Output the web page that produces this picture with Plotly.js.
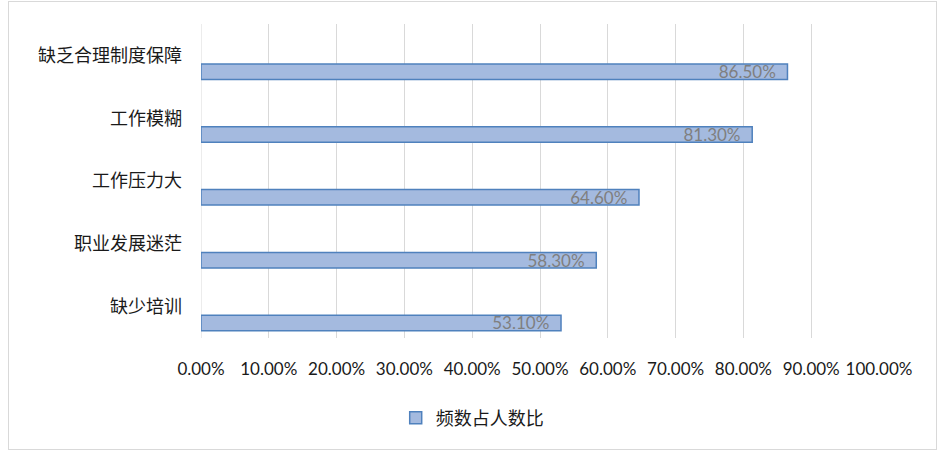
<!DOCTYPE html>
<html>
<head>
<meta charset="utf-8">
<script src="https://cdn.plot.ly/plotly-3.0.1.min.js"></script>
<style>
  html, body { margin: 0; padding: 0; background: #fff; }
  #frame { position: absolute; left: 8px; top: 1px; width: 929px; height: 449px; box-sizing: border-box; border: 1px solid #d9d9d9; }
  #chart { position: absolute; left: 0; top: 0; width: 939px; height: 453px; }
</style>
</head>
<body>
<div id="frame"></div>
<div id="chart"></div>
<script>
const categories = ["缺乏合理制度保障", "工作模糊", "工作压力大", "职业发展迷茫", "缺少培训"];
const values = [0.865, 0.813, 0.646, 0.583, 0.531];
const seriesName = "频数占人数比";
const xTickVals = [0, 0.1, 0.2, 0.3, 0.4, 0.5, 0.6, 0.7, 0.8, 0.9, 1.0];

const trace = {
  type: "bar",
  orientation: "h",
  name: seriesName,
  y: categories,
  x: values,
  width: 0.247,
  offset: 0.137,
  marker: { color: "#a4badf", line: { color: "#4f81bd", width: 1.5 } },
  texttemplate: "%{x:.2%}\u00a0\u00a0",
  textposition: "inside",
  insidetextanchor: "end",
  constraintext: "none",
  textfont: { family: "Lato, 'Open Sans', sans-serif", size: 17, color: "#7f7f7f" },
  hoverinfo: "skip",
  showlegend: true
};

const layout = {
  width: 939, height: 453,
  margin: { l: 201, r: 60, t: 24, b: 115 },
  paper_bgcolor: "rgba(0,0,0,0)",
  plot_bgcolor: "rgba(0,0,0,0)",
  xaxis: {
    range: [0, 1],
    tickvals: xTickVals,
    tickformat: ".2%",
    showgrid: true, gridcolor: "#d9d9d9", gridwidth: 1,
    zeroline: false, showline: false,
    ticks: "", ticklabelstandoff: 19,
    tickfont: { family: "Lato, 'Open Sans', sans-serif", size: 17, color: "#1a1a1a" }
  },
  yaxis: {
    type: "category",
    range: [4.5, -0.5],
    showgrid: false, zeroline: false,
    showline: false,
    ticks: "", ticklabelstandoff: 18,
    tickfont: { family: "'Noto Sans CJK SC', sans-serif", size: 18, color: "#1a1a1a" }
  },
  showlegend: true,
  legend: {
    orientation: "h",
    x: 0.40, xanchor: "center",
    y: -0.255, yanchor: "middle",
    font: { family: "'Noto Sans CJK SC', sans-serif", size: 18, color: "#1a1a1a" },
    itemwidth: 30
  },
  shapes: [
    { type: "line", xref: "x", yref: "paper", x0: 0, x1: 0, y0: 0, y1: 1, line: { color: "#d9d9d9", width: 1 }, layer: "below" }
  ]
};

Plotly.newPlot("chart", [trace], layout, { displayModeBar: false, staticPlot: true });
</script>
</body>
</html>
